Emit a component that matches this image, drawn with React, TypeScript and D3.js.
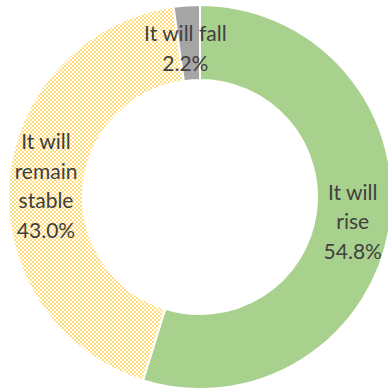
import React from "react";
import * as d3 from "d3";

const categories = ["It will rise", "It will remain stable", "It will fall"];
const labelLines = [["It will", "rise"], ["It will", "remain", "stable"], ["It will fall"]];
const values = [54.8, 43.0, 2.2];
const colors = ["#A9D18E", "url(#checker)", "#A5A5A5"];

const W = 388;
const H = 390;
const cx = 200;
const cy = 197;
const outerR = 192;
const innerR = 117;
const lineH = 29.5;

export default function App() {
  const pie = d3.pie<number>().sort(null).value((d) => d)(values);
  const arc = d3.arc<d3.PieArcDatum<number>>().innerRadius(innerR).outerRadius(outerR);
  const labelArc = d3.arc<d3.PieArcDatum<number>>().innerRadius((innerR + outerR) / 2).outerRadius((innerR + outerR) / 2);
  return (
    <svg width={W} height={H} style={{ position: "absolute", left: 0, top: 0, display: "block" }}>
      <defs>
        <pattern id="checker" width="4" height="4" patternUnits="userSpaceOnUse">
          <rect width="4" height="4" fill="#FFFFFF" />
          <rect x="0" y="0" width="2" height="2" fill="#FFDD7A" />
          <rect x="2" y="2" width="2" height="2" fill="#FFDD7A" />
        </pattern>
      </defs>
      <g transform={`translate(${cx},${cy})`}>
        {pie.map((p, i) => (
          <path key={categories[i]} d={arc(p) || ""} fill={colors[i]} stroke="#FFFFFF" strokeWidth={2} />
        ))}
        {pie.map((p, i) => {
          const [lx0, ly0] = labelArc.centroid(p);
          const lx = i === 2 ? lx0 - 4 : lx0;
          const ly = i === 2 ? ly0 + 4 : ly0;
          const lines = [...labelLines[i], values[i].toFixed(1) + "%"];
          const y0 = ly - ((lines.length - 1) * lineH) / 2;
          return (
            <text key={"t" + i} x={lx} y={y0} textAnchor="middle" dominantBaseline="central" fill="#404040" fontFamily="Lato, sans-serif" fontSize={21}>
              {lines.map((l, j) => (
                <tspan key={j} x={lx} y={y0 + j * lineH}>{l}</tspan>
              ))}
            </text>
          );
        })}
      </g>
    </svg>
  );
}
